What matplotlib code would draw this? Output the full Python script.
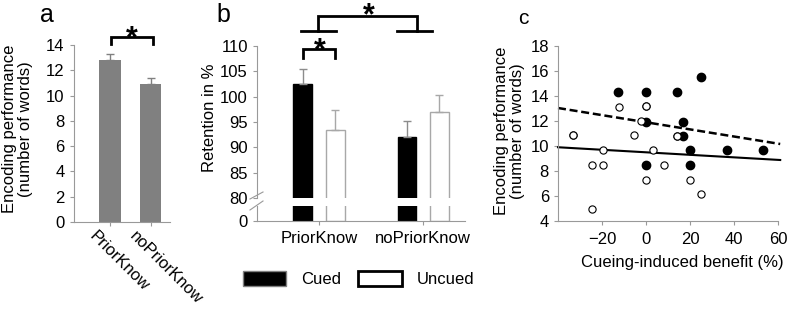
import matplotlib
matplotlib.use("Agg")
import matplotlib.pyplot as plt
import matplotlib.transforms as mtransforms
from matplotlib.patches import Patch
from matplotlib.lines import Line2D
import numpy as np

plt.rcParams["font.family"] = ["Liberation Sans", "DejaVu Sans"]

# panel a: encoding performance
groups_a = ["PriorKnow", "noPriorKnow"]
encoding_mean = [12.8, 10.95]
encoding_err = [0.47, 0.45]

# panel b: retention
groups_b = ["PriorKnow", "noPriorKnow"]
retention_cued = [102.5, 92.0]
retention_cued_err = [3.0, 3.2]
retention_uncued = [93.4, 97.0]
retention_uncued_err = [4.0, 3.3]

# panel c: scatter
cued_x = [-12.6, 0, 14.2, 24.8, 0, 16.8, 16.8, 20.2, 36.9, 53.3, 0, 20.2]
cued_y = [14.35, 14.35, 14.35, 15.5, 11.95, 11.95, 10.8, 9.65, 9.65, 9.65, 8.45, 8.45]
uncued_x = [-33.0, -33.0, -12.1, 0, 0, -2.4, -5.5, 14.2, 14.2, -19.7, 3.4,
            -24.7, -19.7, 8.4, 0, 20.2, 25.2, -24.7]
uncued_y = [10.85, 10.85, 13.15, 13.2, 13.2, 12.0, 10.85, 10.8, 10.8, 9.65, 9.65,
            8.45, 8.45, 8.45, 7.3, 7.3, 6.15, 4.95]
fit_x = [-40, 61]
fit_cued_y = [13.04, 10.16]
fit_uncued_y = [9.9, 8.88]

GREY = "#999999"
W, H = 787, 310

fig = plt.figure(figsize=(W / 100, H / 100), dpi=100)


def px_axes(x0, x1, ytop, ybot):
    return fig.add_axes([x0 / W, 1 - ybot / H, (x1 - x0) / W, (ybot - ytop) / H])


def style(ax):
    for s in ["top", "right"]:
        ax.spines[s].set_visible(False)
    for s in ["left", "bottom"]:
        ax.spines[s].set_color(GREY)
        ax.spines[s].set_linewidth(0.8)
    ax.tick_params(colors=GREY, labelcolor="black", length=3, width=0.8)


def bracket(ax, x0, x1, ytop, ybot):
    ax.plot([x0, x0, x1, x1], [ybot, ytop, ytop, ybot], color="black",
            lw=2, clip_on=False, solid_joinstyle="miter")


def star(ax, x, y, fs=22):
    ax.annotate("*", xy=(x, y), xytext=(0, -0.57 * fs), textcoords="offset points",
                ha="center", va="baseline", fontsize=fs, fontweight="bold",
                annotation_clip=False)


# ---------- panel a ----------
ax_a = px_axes(73.5, 170, 45, 222)
style(ax_a)
xa = np.arange(len(groups_a))
ax_a.bar(xa, encoding_mean, width=0.52, color="#808080")
ax_a.errorbar(xa, encoding_mean, yerr=[np.zeros(2), encoding_err], fmt="none",
              ecolor="#808080", elinewidth=1, capsize=3)
ax_a.set_xlim(-0.9, 1.48)
ax_a.set_ylim(0, 14)
ax_a.set_yticks(range(0, 15, 2))
ax_a.tick_params(axis="y", labelsize=12)
ax_a.set_xticks(xa)
ax_a.set_xticklabels(groups_a, rotation=-45, ha="left", va="top",
                     rotation_mode="anchor", fontsize=12)
ax_a.tick_params(axis="x", pad=2)
shift = mtransforms.ScaledTranslation(-0.13, 0, fig.dpi_scale_trans)
for lab in ax_a.get_xticklabels():
    lab.set_transform(lab.get_transform() + shift)
ax_a.set_ylabel("Encoding performance\n(number of words)", fontsize=12,
                linespacing=1.05)
ax_a.yaxis.set_label_coords(-0.42, 0.525)
bracket(ax_a, 0.025, 1.05, 14.66, 14.08)
star(ax_a, 0.536, 15.19)

# ---------- panel b ----------
ax_b = px_axes(257, 465, 46, 198)
ax_b0 = px_axes(257, 465, 206, 221)
style(ax_b)
style(ax_b0)
ax_b.spines["bottom"].set_visible(False)
xb = np.arange(len(groups_b))
off = 0.155
bw = 0.18
for ax in (ax_b, ax_b0):
    ax.bar(xb - off, retention_cued, width=bw, color="black", edgecolor="black")
    ax.bar(xb + off, retention_uncued, width=bw, color="white", edgecolor="#a8a8a8",
           linewidth=1)
    ax.set_xlim(-0.594, 1.4)
ax_b.errorbar(xb - off, retention_cued, yerr=[np.zeros(2), retention_cued_err],
              fmt="none", ecolor="#8c8c8c", elinewidth=1, capsize=3)
ax_b.errorbar(xb + off, retention_uncued, yerr=[np.zeros(2), retention_uncued_err],
              fmt="none", ecolor="#a8a8a8", elinewidth=1, capsize=3)
ax_b.set_ylim(80, 110)
ax_b.set_yticks(range(80, 111, 5))
ax_b.set_xticks([])
ax_b.tick_params(axis="y", labelsize=12)
ax_b.set_ylabel("Retention in %", fontsize=12)
ax_b.yaxis.set_label_coords(-0.192, 0.526)
ax_b0.set_ylim(0, 4)
ax_b0.set_yticks([0])
ax_b0.tick_params(axis="y", labelsize=12)
ax_b0.set_xticks(xb)
ax_b0.set_xticklabels(groups_b, fontsize=12)
ax_b0.tick_params(axis="x", pad=4)
for x0, y0, x1, y1 in [(250, 199, 263, 192), (250, 210, 263, 201)]:
    fig.add_artist(Line2D([x0 / W, x1 / W], [1 - y0 / H, 1 - y1 / H],
                          transform=fig.transFigure, color=GREY, lw=0.8))
# brackets
bracket(ax_b, -off, off, 109.35, 107.57)
star(ax_b, 0.01, 110.85)
ax_b.plot([-0.175, 0.163], [113.02, 113.02], color="black", lw=2, clip_on=False)
ax_b.plot([0.745, 1.086], [113.02, 113.02], color="black", lw=2, clip_on=False)
bracket(ax_b, -0.007, 0.938, 115.98, 113.02)
star(ax_b, 0.482, 117.64)

handles = [Patch(facecolor="black", edgecolor="#808080", lw=1, label="Cued"),
           Patch(facecolor="white", edgecolor="black", lw=2, label="Uncued")]
fig.legend(handles=handles, loc="center", bbox_to_anchor=(0.4554, 0.1), ncol=2,
           frameon=False, handlelength=2.6, handleheight=1.0, handletextpad=0.9,
           columnspacing=1.05, fontsize=12, borderpad=0)

# ---------- panel c ----------
ax_c = px_axes(558, 778, 46, 221)
style(ax_c)
ax_c.plot(fit_x, fit_cued_y, color="black", lw=1.8, ls=(0, (3.2, 1.5)), zorder=2,
          clip_on=False)
ax_c.plot(fit_x, fit_uncued_y, color="black", lw=1.5, zorder=2, clip_on=False)
ax_c.plot(cued_x, cued_y, "o", ms=6, mfc="black", mec="black", zorder=3)
ax_c.plot(uncued_x, uncued_y, "o", ms=5.2, mfc="white", mec="black", mew=0.8,
          zorder=4)
ax_c.set_xlim(-40, 60)
ax_c.set_ylim(4, 18)
ax_c.set_xticks([-20, 0, 20, 40, 60])
ax_c.set_yticks(range(4, 19, 2))
ax_c.tick_params(labelsize=12)
ax_c.tick_params(axis="x", pad=5)
ax_c.set_xlabel("Cueing-induced benefit (%)", fontsize=12)
ax_c.xaxis.set_label_coords(0.566, -0.194)
ax_c.set_ylabel("Encoding performance\n(number of words)", fontsize=12,
                linespacing=1.05)
ax_c.yaxis.set_label_coords(-0.15, 0.514)

# panel letters
fig.text(47 / W, 1 - 15 / H, "a", fontsize=18, ha="center", va="center")
fig.text(223 / W, 1 - 15 / H, "b", fontsize=18, ha="center", va="center")
fig.text(523 / W, 1 - 18 / H, "c", fontsize=15, ha="center", va="center")

fig.savefig("out.png", dpi=100)
